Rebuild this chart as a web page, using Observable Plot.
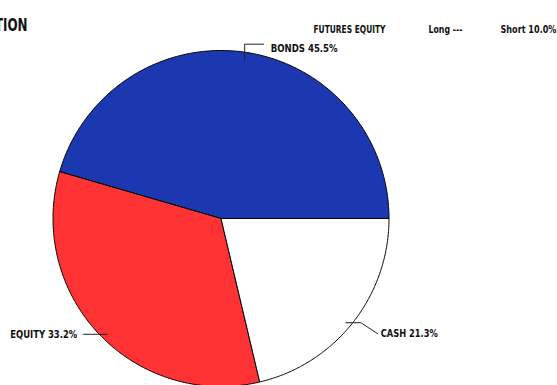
<!DOCTYPE html>
<html>
<head>
<meta charset="utf-8">
<script src="https://cdn.jsdelivr.net/npm/d3@7"></script>
<script src="https://cdn.jsdelivr.net/npm/@observablehq/plot@0.6"></script>
<style>
  html, body { margin: 0; padding: 0; background: #fff; overflow: hidden; }
  svg { display: block; }
</style>
</head>
<body>
<div id="chart"></div>
<script>
const title = "ASSET ALLOCATION";
const categories = ["BONDS", "EQUITY", "CASH"];
const values = [45.5, 33.2, 21.3];
const colors = ["#1b38b1", "#ff3333", "#ffffff"];
const headerLabels = ["FUTURES EQUITY", "Long ---", "Short 10.0%"];

const FONT = "'DejaVu Sans Condensed', 'DejaVu Sans', sans-serif";
const R = 168; // pixels per data unit (pie radius)
const total = d3.sum(values);

// slice polygons in unit coordinates (angle 0 = 3 o'clock, counterclockwise)
const slicePts = [];
const anchors = [];
let a0 = 0;
categories.forEach((c, i) => {
  const a1 = a0 + values[i] / total * 2 * Math.PI;
  slicePts.push({cat: c, x: 0, y: 0});
  const n = Math.max(2, Math.ceil((a1 - a0) / (Math.PI / 360)));
  for (let k = 0; k <= n; k++) {
    const a = a0 + (a1 - a0) * k / n;
    slicePts.push({cat: c, x: Math.cos(a), y: Math.sin(a)});
  }
  slicePts.push({cat: c, x: 0, y: 0});
  const m = (a0 + a1) / 2;
  anchors.push({cat: c, x: Math.cos(m), y: Math.sin(m), label: `${c} ${values[i].toFixed(1)}%`});
  a0 = a1;
});

const p = v => v / R;
const [aB, aE, aC] = anchors;
const leaders = [
  {g: 0, x: aB.x, y: aB.y - p(8)}, {g: 0, x: aB.x, y: aB.y + p(8)}, {g: 0, x: aB.x + p(19), y: aB.y + p(8)},
  {g: 1, x: aE.x - p(16), y: aE.y}, {g: 1, x: aE.x + p(8), y: aE.y},
  {g: 2, x: aC.x - p(7), y: aC.y}, {g: 2, x: aC.x + p(8), y: aC.y}, {g: 2, x: aC.x + p(25), y: aC.y - p(11)}
];
const labelStyle = [
  {dx: 26, dy: -4, textAnchor: "start"},
  {dx: -22, dy: 0, textAnchor: "end"},
  {dx: 28, dy: 11, textAnchor: "start"}
];
const labelData = anchors.map((a, i) => ({...a, ...labelStyle[i]}));

const cx = 220.5, cy = 218;
const chart = Plot.plot({
  width: 557,
  height: 385,
  margin: 0,
  style: {fontFamily: FONT, background: "#fff", overflow: "hidden"},
  x: {domain: [-1, 1], range: [cx - R, cx + R], axis: null},
  y: {domain: [-1, 1], range: [cy + R, cy - R], axis: null},
  color: {domain: categories, range: colors},
  marks: [
    Plot.line(slicePts, {x: "x", y: "y", z: "cat", fill: "cat", stroke: "#000", strokeWidth: 1, strokeLinejoin: "round"}),
    Plot.line(leaders, {x: "x", y: "y", z: "g", stroke: "#222", strokeWidth: 1}),
    ...labelData.map(d => Plot.text([d], {
      x: "x", y: "y", text: "label", dx: d.dx, dy: d.dy, textAnchor: d.textAnchor,
      fontSize: 11, fontWeight: "bold", fill: "#111"
    })),
    Plot.text([title], {frameAnchor: "top-left", dx: 27, dy: 18, textAnchor: "end", fontSize: 17, fontWeight: "bold", fill: "#111"}),
    Plot.text([headerLabels[0]], {frameAnchor: "top-left", dx: 313, dy: 25, textAnchor: "start", fontSize: 11, fontWeight: "bold", fill: "#111"}),
    Plot.text([headerLabels[1]], {frameAnchor: "top-left", dx: 428, dy: 25, textAnchor: "start", fontSize: 11, fontWeight: "bold", fill: "#111"}),
    Plot.text([headerLabels[2]], {frameAnchor: "top-left", dx: 500, dy: 25, textAnchor: "start", fontSize: 11, fontWeight: "bold", fill: "#111"})
  ]
});
document.getElementById("chart").appendChild(chart);

// condense glyphs to match the narrow bold face of the reference
const targetWidth = {
  "BONDS 45.5%": 67, "EQUITY 33.2%": 67, "CASH 21.3%": 57,
  "FUTURES EQUITY": 72, "Long ---": 34, "Short 10.0%": 56
};
chart.querySelectorAll("text").forEach(t => {
  const s = t.textContent;
  const w = t.getComputedTextLength();
  const target = targetWidth[s] ?? w * 0.78;
  t.setAttribute("textLength", target);
  t.setAttribute("lengthAdjust", "spacingAndGlyphs");
});
</script>
</body>
</html>
